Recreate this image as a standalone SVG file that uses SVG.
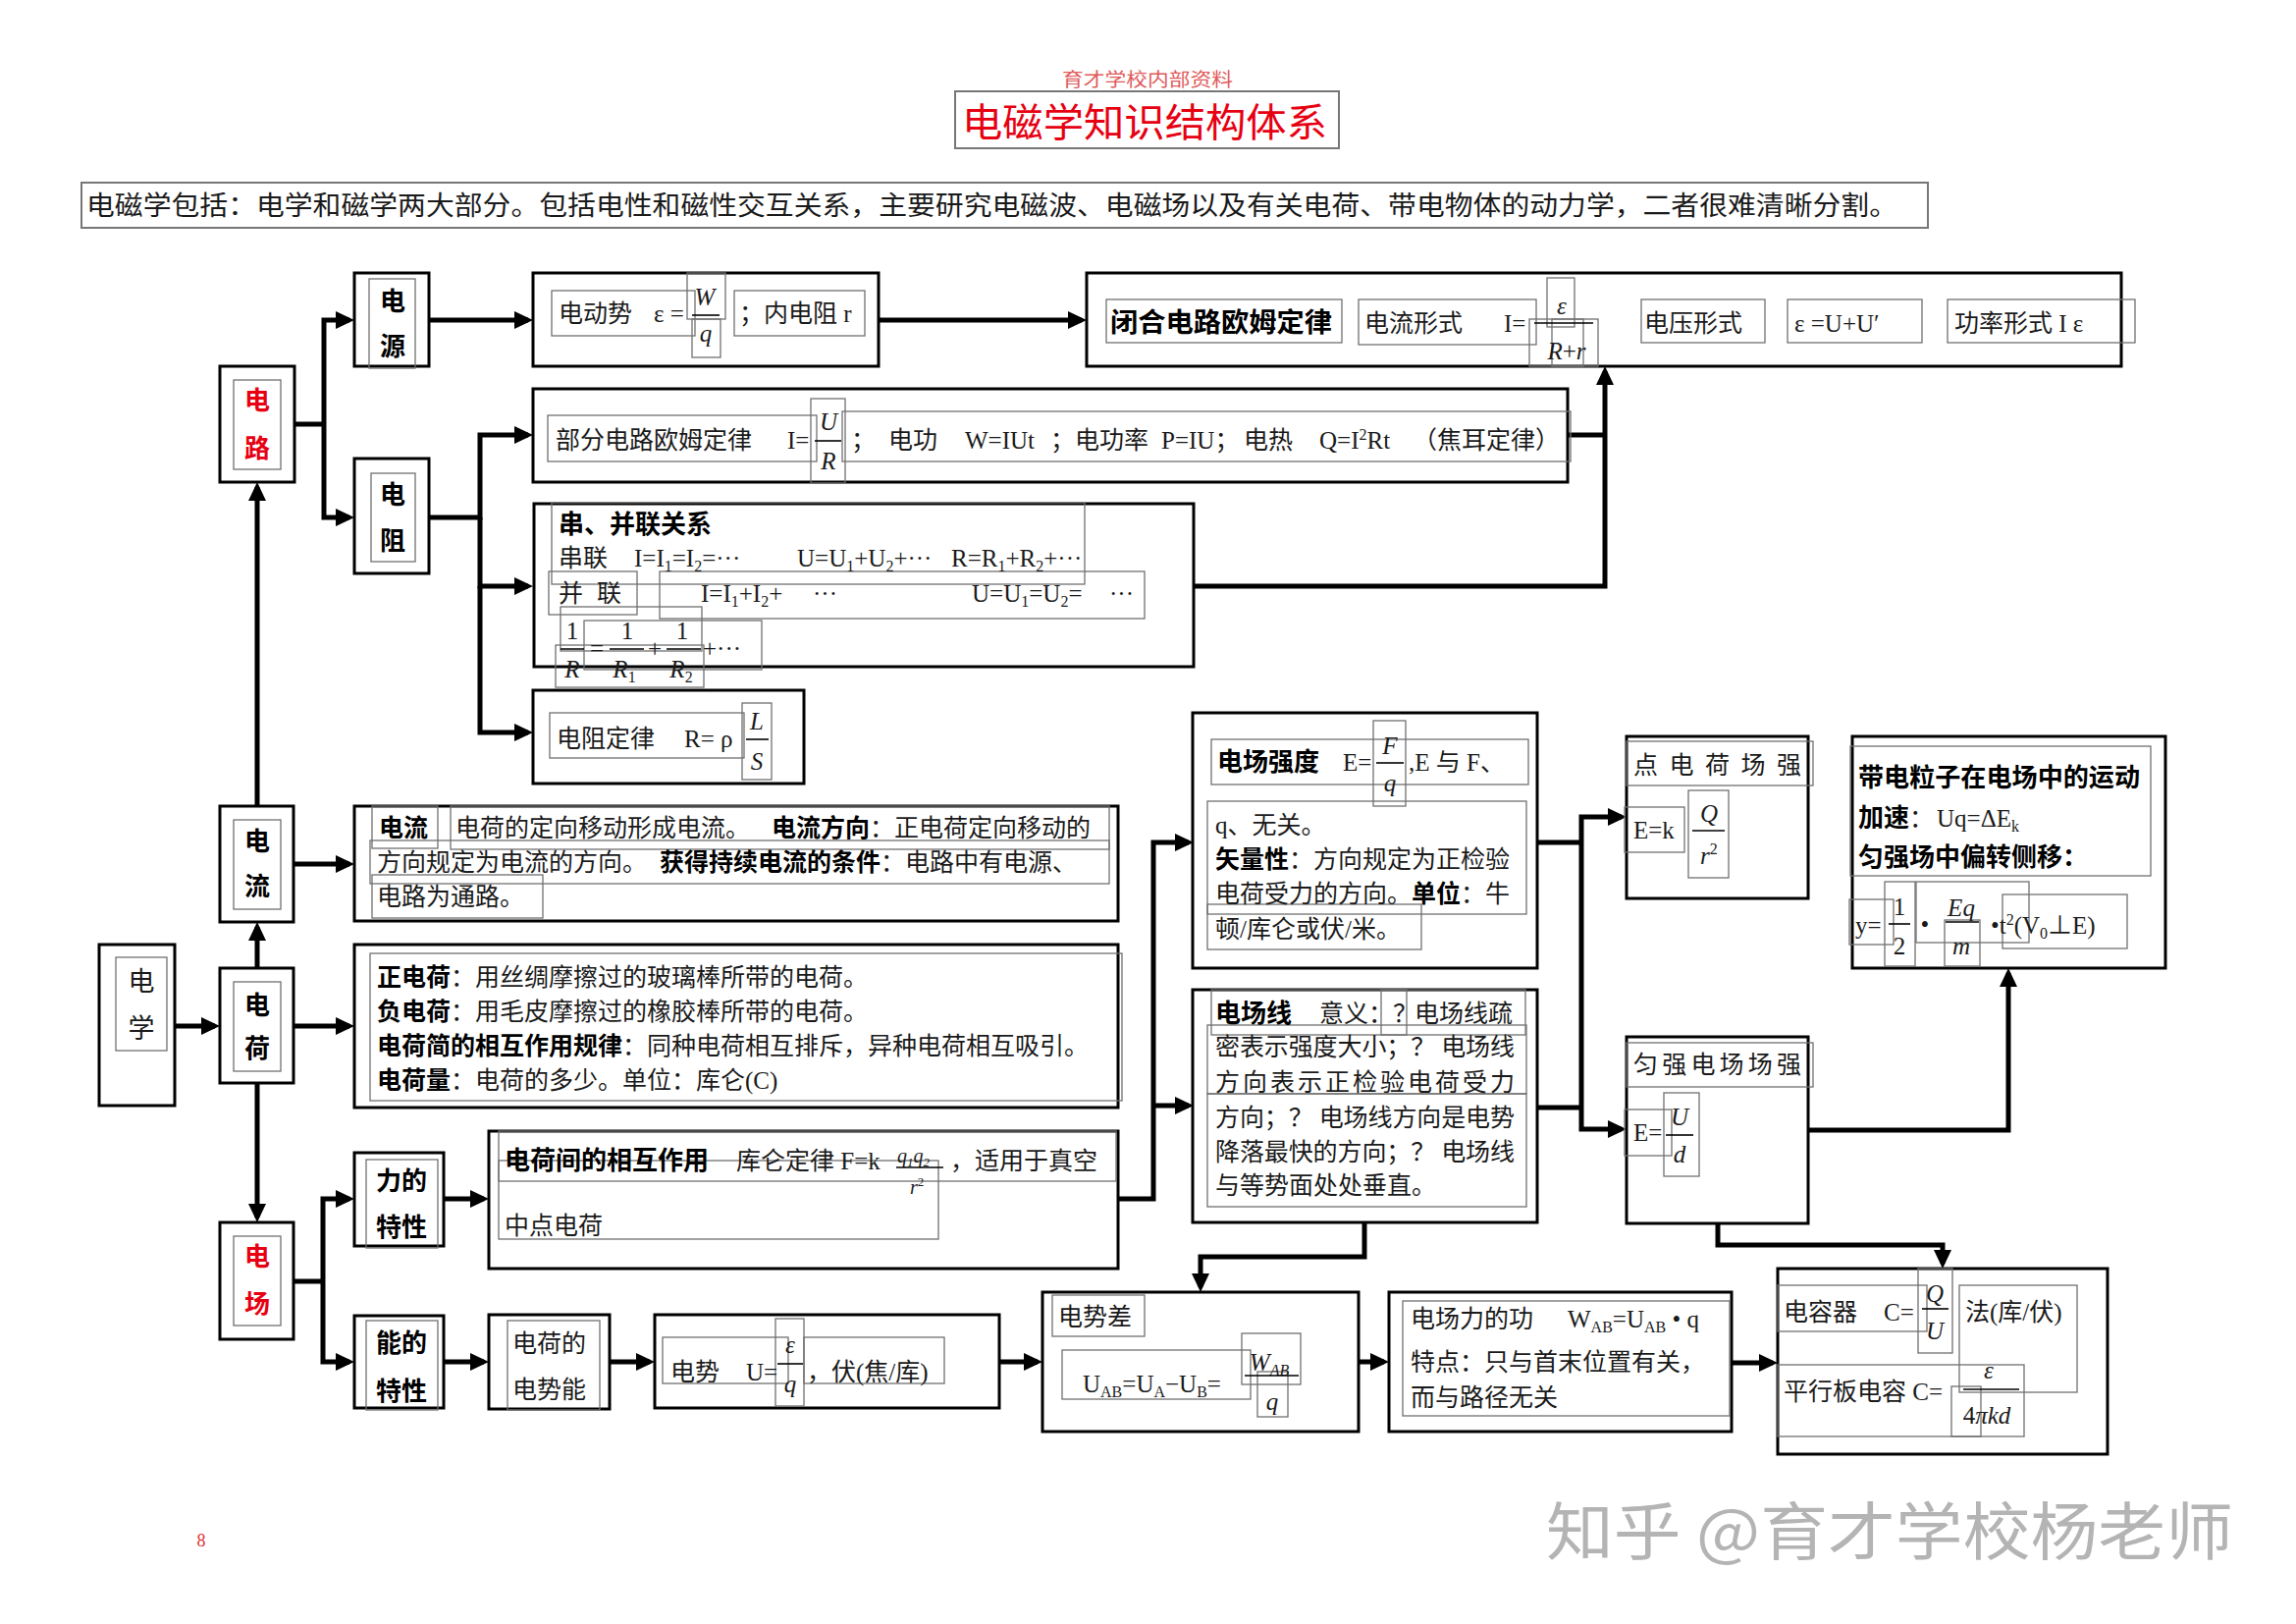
<svg xmlns="http://www.w3.org/2000/svg" width="2339" height="1654" viewBox="0 0 2339 1654">
<defs>
<style>
.box{fill:#fff;stroke:#000;stroke-width:3}
.in{fill:none;stroke:#707070;stroke-width:1.3}
.ca{fill:none;stroke:#000;stroke-width:5;marker-end:url(#ah)}
.c{fill:none;stroke:#000;stroke-width:5}
.fl{fill:none;stroke:#000;stroke-width:1.6}
text{font-family:"Liberation Serif","Noto Sans CJK SC",serif;font-size:25px;fill:#1a1a1a}
.b{font-family:"Liberation Sans","Noto Sans CJK SC",sans-serif;font-weight:bold;fill:#000}
.v{font-family:"Liberation Sans","Noto Sans CJK SC",sans-serif;font-weight:bold;font-size:26px;text-anchor:middle;fill:#000}
.red{fill:#e60012}
.m{font-style:italic}
.s{font-size:16px}
.mid{text-anchor:middle}
</style>
<marker id="ah" markerUnits="userSpaceOnUse" markerWidth="20" markerHeight="20" viewBox="0 0 20 20" refX="14" refY="10" orient="auto"><path d="M0,1 L19,10 L0,19 z" fill="#000"/></marker>
</defs>
<rect width="2339" height="1654" fill="#fff"/>

<g id="title">
<rect x="973" y="93" width="391" height="58" fill="#fff" stroke="#777" stroke-width="2"/>
<text x="1082" y="88" style="font-size:19px;fill:#e05a5a" textLength="174" lengthAdjust="spacingAndGlyphs">育才学校内部资料</text>
<text x="980" y="139" style="font-family:'Noto Sans CJK SC',sans-serif;font-size:40px;fill:#e60012" textLength="372" lengthAdjust="spacingAndGlyphs">电磁学知识结构体系</text>
</g>

<g id="intro">
<rect x="83" y="186" width="1881" height="46" fill="#fff" stroke="#777" stroke-width="2"/>
<text x="88" y="219" style="font-size:27px" textLength="1845" lengthAdjust="spacingAndGlyphs">电磁学包括：电学和磁学两大部分。包括电性和磁性交互关系，主要研究电磁波、电磁场以及有关电荷、带电物体的动力学，二者很难清晰分割。</text>
</g>

<g id="connectors">
<path class="c" d="M300,432 H330"/>
<path class="ca" d="M330,432 V326 H356"/>
<path class="ca" d="M330,432 V527 H356"/>
<path class="ca" d="M437,326 H538"/>
<path class="ca" d="M437,527 H489 V443 H538"/>
<path class="ca" d="M489,527 V597 H538"/>
<path class="ca" d="M489,597 V746 H538"/>
<path class="ca" d="M895,326 H1102"/>
<path class="c" d="M1597,443 H1635"/>
<path class="ca" d="M1216,597 H1635 V378"/>
<path class="ca" d="M178,1045 H219"/>
<path class="ca" d="M262,986 V944"/>
<path class="ca" d="M262,821 V496"/>
<path class="ca" d="M262,1103 V1240"/>
<path class="ca" d="M299,880 H356"/>
<path class="ca" d="M299,1045 H356"/>
<path class="c" d="M299,1305 H329"/>
<path class="ca" d="M329,1305 V1221 H356"/>
<path class="ca" d="M329,1305 V1387 H356"/>
<path class="ca" d="M452,1221 H493"/>
<path class="ca" d="M452,1387 H493"/>
<path class="ca" d="M621,1387 H662"/>
<path class="ca" d="M1018,1387 H1057"/>
<path class="ca" d="M1139,1221 H1175 V858 H1211"/>
<path class="ca" d="M1175,1126 H1211"/>
<path class="c" d="M1566,858 H1611"/>
<path class="c" d="M1566,1128 H1611"/>
<path class="ca" d="M1611,858 V832 H1652"/>
<path class="ca" d="M1611,858 V1150 H1652"/>
<path class="ca" d="M1842,1151 H2046 V991"/>
<path class="ca" d="M1750,1246 V1268 H1979 V1287"/>
<path class="ca" d="M1390,1245 V1280 H1223 V1311"/>
<path class="ca" d="M1384,1387 H1410"/>
<path class="ca" d="M1764,1388 H1806"/>
</g>

<g id="n-dianlu">
<rect class="box" x="224" y="373" width="76" height="118"/>
<rect class="in" x="238" y="387" width="48" height="91"/>
<text class="v red" x="262" y="417">电</text>
<text class="v red" x="262" y="466">路</text>
</g>
<g id="n-dianyuan">
<rect class="box" x="361" y="278" width="76" height="95"/>
<rect class="in" x="376" y="284" width="47" height="91"/>
<text class="v" x="400" y="316">电</text>
<text class="v" x="400" y="362">源</text>
</g>
<g id="n-dianzu">
<rect class="box" x="361" y="467" width="76" height="117"/>
<rect class="in" x="378" y="482" width="45" height="90"/>
<text class="v" x="400" y="513">电</text>
<text class="v" x="400" y="560">阻</text>
</g>
<g id="n-dianxue">
<rect class="box" x="101" y="962" width="77" height="164"/>
<rect class="in" x="118" y="975" width="52" height="95"/>
<text class="mid" style="font-size:27px" x="144" y="1009">电</text>
<text class="mid" style="font-size:27px" x="144" y="1057">学</text>
</g>
<g id="n-dianhe">
<rect class="box" x="224" y="986" width="75" height="117"/>
<rect class="in" x="238" y="1000" width="48" height="91"/>
<text class="v" x="262" y="1033">电</text>
<text class="v" x="262" y="1077">荷</text>
</g>
<g id="n-dianliu">
<rect class="box" x="224" y="821" width="75" height="118"/>
<rect class="in" x="238" y="835" width="48" height="91"/>
<text class="v" x="262" y="866">电</text>
<text class="v" x="262" y="912">流</text>
</g>
<g id="n-dianchang">
<rect class="box" x="224" y="1245" width="75" height="119"/>
<rect class="in" x="238" y="1259" width="48" height="91"/>
<text class="v red" x="262" y="1289">电</text>
<text class="v red" x="262" y="1337">场</text>
</g>
<g id="n-lide">
<rect class="box" x="361" y="1174" width="91" height="95"/>
<rect class="in" x="373" y="1181" width="73" height="90"/>
<text class="v" x="409" y="1212">力的</text>
<text class="v" x="409" y="1259">特性</text>
</g>
<g id="n-nengde">
<rect class="box" x="361" y="1340" width="91" height="94"/>
<rect class="in" x="373" y="1345" width="73" height="91"/>
<text class="v" x="409" y="1377">能的</text>
<text class="v" x="409" y="1426">特性</text>
</g>
<g id="n-dianshineng">
<rect class="box" x="498" y="1339" width="123" height="96"/>
<rect class="in" x="517" y="1345" width="94" height="91"/>
<text x="522" y="1377">电荷的</text>
<text x="522" y="1424">电势能</text>
</g>

<g id="n-diandongshi">
<rect class="box" x="543" y="278" width="352" height="95"/>
<rect class="in" x="562" y="296" width="146" height="46"/>
<rect class="in" x="700" y="278" width="39" height="47"/>
<rect class="in" x="705" y="325" width="29" height="39"/>
<rect class="in" x="748" y="296" width="133" height="46"/>
<text x="569" y="328">电动势</text>
<text x="666" y="328">ε =</text>
<text class="m mid" x="718" y="311">W</text>
<path class="fl" d="M705,321 H733"/>
<text class="m mid" x="719" y="348">q</text>
<text x="753" y="328">；内电阻 r</text>
</g>

<g id="n-bihe">
<rect class="box" x="1107" y="278" width="1054" height="95"/>
<rect class="in" x="1127" y="305" width="240" height="44"/>
<rect class="in" x="1384" y="305" width="181" height="46"/>
<rect class="in" x="1576" y="283" width="28" height="50"/>
<rect class="in" x="1558" y="325" width="70" height="48"/>
<rect class="in" x="1581" y="325" width="32" height="48"/>
<rect class="in" x="1672" y="305" width="126" height="44"/>
<rect class="in" x="1821" y="305" width="137" height="44"/>
<rect class="in" x="1984" y="305" width="191" height="44"/>
<text class="b" x="1131" y="338" style="font-size:27px" textLength="226" lengthAdjust="spacingAndGlyphs">闭合电路欧姆定律</text>
<text x="1390" y="338">电流形式</text>
<text x="1532" y="338">I=</text>
<text class="m mid" x="1591" y="320">ε</text>
<path class="fl" d="M1563,329 H1623"/>
<text class="m mid" x="1596" y="366">R<tspan style="font-style:normal">+</tspan>r</text>
<text x="1675" y="338">电压形式</text>
<text x="1828" y="338">ε =U+U′</text>
<text x="1991" y="338">功率形式  I ε</text>
</g>

<g id="n-bufen">
<rect class="box" x="543" y="396" width="1054" height="95"/>
<rect class="in" x="558" y="423" width="274" height="47"/>
<rect class="in" x="826" y="406" width="35" height="86"/>
<rect class="in" x="858" y="419" width="742" height="51"/>
<text x="566" y="457">部分电路欧姆定律</text>
<text x="802" y="457">I=</text>
<text class="m mid" x="844" y="438">U</text>
<path class="fl" d="M830,449 H857"/>
<text class="m mid" x="844" y="478">R</text>
<text x="867" y="457">；</text>
<text x="905" y="457">电功</text>
<text x="983" y="457">W=IUt</text>
<text x="1070" y="457">；</text>
<text x="1095" y="457">电功率</text>
<text x="1183" y="457">P=IU；</text>
<text x="1267" y="457">电热</text>
<text x="1344" y="457">Q=I<tspan class="s" baseline-shift="9">2</tspan>Rt</text>
<text x="1439" y="457">（焦耳定律）</text>
</g>

<g id="n-chuanbing">
<rect class="box" x="544" y="513" width="672" height="166"/>
<rect class="in" x="562" y="512" width="543" height="83"/>
<rect class="in" x="559" y="582" width="90" height="44"/>
<rect class="in" x="672" y="582" width="494" height="48"/>
<rect class="in" x="571" y="618" width="144" height="45"/>
<rect class="in" x="595" y="632" width="181" height="50"/>
<rect class="in" x="566" y="657" width="151" height="43"/>
<text class="b" x="569" y="543" style="font-size:26px">串、并联关系</text>
<text x="569" y="577">串联</text>
<text x="646" y="577">I=I<tspan class="s" baseline-shift="-5">1</tspan>=I<tspan class="s" baseline-shift="-5">2</tspan>=···</text>
<text x="812" y="577">U=U<tspan class="s" baseline-shift="-5">1</tspan>+U<tspan class="s" baseline-shift="-5">2</tspan>+···</text>
<text x="969" y="577">R=R<tspan class="s" baseline-shift="-5">1</tspan>+R<tspan class="s" baseline-shift="-5">2</tspan>+···</text>
<text y="613"><tspan x="569">并</tspan><tspan x="608">联</tspan></text>
<text x="714" y="613">I=I<tspan class="s" baseline-shift="-5">1</tspan>+I<tspan class="s" baseline-shift="-5">2</tspan>+</text>
<text x="828" y="613">···</text>
<text x="990" y="613">U=U<tspan class="s" baseline-shift="-5">1</tspan>=U<tspan class="s" baseline-shift="-5">2</tspan>=</text>
<text x="1130" y="613">···</text>
<text class="mid" x="583" y="651">1</text>
<text class="mid" x="639" y="651">1</text>
<text class="mid" x="695" y="651">1</text>
<path class="fl" d="M571,661 H595 M621,661 H656 M679,661 H714"/>
<text class="mid" x="608" y="669">=</text>
<text class="mid" x="667" y="669">+</text>
<text x="716" y="669">+···</text>
<text class="m mid" x="583" y="690">R</text>
<text class="m mid" x="636" y="690">R<tspan class="s" style="font-style:normal" baseline-shift="-5">1</tspan></text>
<text class="m mid" x="694" y="690">R<tspan class="s" style="font-style:normal" baseline-shift="-5">2</tspan></text>
</g>

<g id="n-dianzudinglv">
<rect class="box" x="543" y="703" width="276" height="95"/>
<rect class="in" x="560" y="726" width="198" height="46"/>
<rect class="in" x="756" y="716" width="30" height="78"/>
<text x="567" y="761">电阻定律</text>
<text x="697" y="761">R= ρ</text>
<text class="m mid" x="771" y="743">L</text>
<path class="fl" d="M760,753 H783"/>
<text class="m mid" x="771" y="784">S</text>
</g>

<g id="n-dianliu-text">
<rect class="box" x="361" y="821" width="778" height="117"/>
<rect class="in" x="379" y="821" width="67" height="43"/>
<rect class="in" x="459" y="821" width="671" height="44"/>
<rect class="in" x="377" y="856" width="753" height="44"/>
<rect class="in" x="379" y="891" width="174" height="44"/>
<text y="852"><tspan class="b" x="386">电流</tspan><tspan x="464">电荷的定向移动形成电流。</tspan><tspan class="b" x="786">电流方向</tspan><tspan>：正电荷定向移动的</tspan></text>
<text y="887"><tspan x="384">方向规定为电流的方向。</tspan><tspan class="b" x="672">获得持续电流的条件</tspan><tspan>：电路中有电源、</tspan></text>
<text x="384" y="922">电路为通路。</text>
</g>

<g id="n-dianhe-text">
<rect class="box" x="361" y="962" width="778" height="166"/>
<rect class="in" x="377" y="971" width="766" height="150"/>
<text x="384" y="1004"><tspan class="b">正电荷</tspan>：用丝绸摩擦过的玻璃棒所带的电荷。</text>
<text x="384" y="1039"><tspan class="b">负电荷</tspan>：用毛皮摩擦过的橡胶棒所带的电荷。</text>
<text x="384" y="1074"><tspan class="b">电荷简的相互作用规律</tspan>：同种电荷相互排斥，异种电荷相互吸引。</text>
<text x="384" y="1109"><tspan class="b">电荷量</tspan>：电荷的多少。单位：库仑(C)</text>
</g>

<g id="n-xianghu">
<rect class="box" x="498" y="1152" width="641" height="140"/>
<rect class="in" x="508" y="1152" width="629" height="51"/>
<rect class="in" x="508" y="1182" width="448" height="80"/>
<text class="b" x="514" y="1191" style="font-size:26px">电荷间的相互作用</text>
<text x="750" y="1191">库仑定律  F=k</text>
<text class="m" x="914" y="1184" style="font-size:20px">q<tspan style="font-size:13px" baseline-shift="-4">1</tspan>q<tspan style="font-size:13px" baseline-shift="-4">2</tspan></text>
<path class="fl" d="M913,1189 H961"/>
<text class="m" x="927" y="1216" style="font-size:20px">r<tspan style="font-size:13px;font-style:normal" baseline-shift="8">2</tspan></text>
<text x="968" y="1191">，适用于真空</text>
<text x="514" y="1257">中点电荷</text>
</g>

<g id="n-dianshi">
<rect class="box" x="667" y="1339" width="351" height="95"/>
<rect class="in" x="675" y="1362" width="128" height="47"/>
<rect class="in" x="790" y="1343" width="29" height="89"/>
<rect class="in" x="819" y="1362" width="143" height="47"/>
<text x="683" y="1406">电势</text>
<text x="760" y="1406">U=</text>
<text class="m mid" x="805" y="1378">ε</text>
<path class="fl" d="M792,1389 H818"/>
<text class="m mid" x="805" y="1418">q</text>
<text x="822" y="1406">，伏(焦/库)</text>
</g>

<g id="n-dianshicha">
<rect class="box" x="1062" y="1316" width="322" height="142"/>
<rect class="in" x="1072" y="1319" width="94" height="42"/>
<rect class="in" x="1082" y="1375" width="192" height="50"/>
<rect class="in" x="1265" y="1358" width="60" height="52"/>
<rect class="in" x="1281" y="1397" width="31" height="46"/>
<text x="1078" y="1350">电势差</text>
<text x="1103" y="1418">U<tspan class="s" baseline-shift="-5">AB</tspan>=U<tspan class="s" baseline-shift="-5">A</tspan>−U<tspan class="s" baseline-shift="-5">B</tspan>=</text>
<text class="m mid" x="1293" y="1396">W<tspan class="s" baseline-shift="-5">AB</tspan></text>
<path class="fl" d="M1268,1401 H1323"/>
<text class="m mid" x="1296" y="1436">q</text>
</g>

<g id="n-gong">
<rect class="box" x="1415" y="1316" width="349" height="142"/>
<rect class="in" x="1429" y="1325" width="333" height="117"/>
<text x="1437" y="1352">电场力的功</text>
<text x="1597" y="1352">W<tspan class="s" baseline-shift="-5">AB</tspan>=U<tspan class="s" baseline-shift="-5">AB</tspan> • q</text>
<text x="1437" y="1396">特点：只与首末位置有关，</text>
<text x="1437" y="1432">而与路径无关</text>
</g>

<g id="n-dianrong">
<rect class="box" x="1811" y="1292" width="336" height="189"/>
<rect class="in" x="1811" y="1309" width="152" height="47"/>
<rect class="in" x="1954" y="1292" width="35" height="86"/>
<rect class="in" x="1996" y="1309" width="120" height="109"/>
<rect class="in" x="1811" y="1390" width="251" height="73"/>
<rect class="in" x="1988" y="1412" width="30" height="51"/>
<text x="1817" y="1345">电容器</text>
<text x="1919" y="1345">C=</text>
<text class="m mid" x="1971" y="1326">Q</text>
<path class="fl" d="M1958,1333 H1985"/>
<text class="m mid" x="1971" y="1364">U</text>
<text x="2002" y="1345">法(库/伏)</text>
<text x="1817" y="1426">平行板电容 C=</text>
<text class="m mid" x="2026" y="1404">ε</text>
<path class="fl" d="M2000,1415 H2057"/>
<text class="mid" x="2024" y="1450">4<tspan class="m">πkd</tspan></text>
</g>

<g id="n-qiangdu">
<rect class="box" x="1215" y="726" width="351" height="260"/>
<rect class="in" x="1234" y="753" width="323" height="46"/>
<rect class="in" x="1399" y="734" width="33" height="87"/>
<rect class="in" x="1230" y="816" width="325" height="115"/>
<rect class="in" x="1230" y="921" width="218" height="46"/>
<text class="b" x="1240" y="785" style="font-size:26px">电场强度</text>
<text x="1368" y="785">E=</text>
<text class="m mid" x="1416" y="768">F</text>
<path class="fl" d="M1402,777 H1430"/>
<text class="m mid" x="1416" y="806">q</text>
<text x="1435" y="785">,E 与 F、</text>
<text x="1238" y="849">q、无关。</text>
<text x="1238" y="884"><tspan class="b">矢量性</tspan>：方向规定为正检验</text>
<text x="1238" y="919">电荷受力的方向。<tspan class="b">单位</tspan>：牛</text>
<text x="1238" y="955">顿/库仑或伏/米。</text>
</g>

<g id="n-dianchangxian">
<rect class="box" x="1215" y="1008" width="351" height="237"/>
<rect class="in" x="1234" y="1008" width="320" height="46"/>
<rect class="in" x="1407" y="1008" width="26" height="46"/>
<rect class="in" x="1230" y="1044" width="325" height="70"/>
<rect class="in" x="1230" y="1114" width="325" height="115"/>
<text x="1238" y="1041"><tspan class="b" style="font-size:26px">电场线</tspan><tspan x="1344">意义：？</tspan><tspan x="1441">电场线疏</tspan></text>
<text x="1238" y="1075" textLength="305" lengthAdjust="spacing">密表示强度大小；？ 电场线</text>
<text x="1238" y="1111" textLength="305" lengthAdjust="spacing">方向表示正检验电荷受力</text>
<text x="1238" y="1147" textLength="305" lengthAdjust="spacing">方向；？ 电场线方向是电势</text>
<text x="1238" y="1182" textLength="305" lengthAdjust="spacing">降落最快的方向；？ 电场线</text>
<text x="1238" y="1216">与等势面处处垂直。</text>
</g>

<g id="n-dian">
<rect class="box" x="1657" y="750" width="185" height="165"/>
<rect class="in" x="1657" y="755" width="190" height="45"/>
<rect class="in" x="1655" y="822" width="61" height="46"/>
<rect class="in" x="1720" y="805" width="41" height="89"/>
<text x="1664" y="788" textLength="171" lengthAdjust="spacing">点电荷场强</text>
<text x="1664" y="854">E=k</text>
<text class="m mid" x="1741" y="837">Q</text>
<path class="fl" d="M1724,846 H1757"/>
<text class="m" x="1732" y="880">r<tspan class="s" style="font-style:normal" baseline-shift="10">2</tspan></text>
</g>

<g id="n-yunqiang">
<rect class="box" x="1657" y="1056" width="185" height="190"/>
<rect class="in" x="1657" y="1062" width="190" height="45"/>
<rect class="in" x="1655" y="1130" width="48" height="47"/>
<rect class="in" x="1695" y="1113" width="36" height="85"/>
<text x="1664" y="1093" textLength="171" lengthAdjust="spacing">匀强电场场强</text>
<text x="1664" y="1162">E=</text>
<text class="m mid" x="1711" y="1146">U</text>
<path class="fl" d="M1697,1156 H1725"/>
<text class="m mid" x="1711" y="1184">d</text>
</g>

<g id="n-lizi">
<rect class="box" x="1887" y="750" width="319" height="236"/>
<rect class="in" x="1885" y="760" width="306" height="132"/>
<rect class="in" x="1884" y="916" width="45" height="46"/>
<rect class="in" x="1920" y="898" width="31" height="86"/>
<rect class="in" x="1952" y="898" width="115" height="62"/>
<rect class="in" x="1981" y="937" width="36" height="47"/>
<rect class="in" x="2040" y="911" width="127" height="55"/>
<text class="b" x="1893" y="801" style="font-size:26px" textLength="287" lengthAdjust="spacingAndGlyphs">带电粒子在电场中的运动</text>
<text x="1893" y="842"><tspan class="b" style="font-size:26px">加速</tspan>：</text>
<text x="1973" y="842">Uq=ΔE<tspan class="s" baseline-shift="-5">k</tspan></text>
<text class="b" x="1893" y="882" style="font-size:26px">匀强场中偏转侧移：</text>
<text x="1890" y="951">y=</text>
<text class="mid" x="1935" y="932">1</text>
<path class="fl" d="M1924,941 H1946"/>
<text class="mid" x="1935" y="972">2</text>
<text class="mid" x="1961" y="950">•</text>
<text class="m mid" x="1998" y="933">Eq</text>
<path class="fl" d="M1982,939 H2016"/>
<text class="m mid" x="1998" y="972">m</text>
<text x="2028" y="951">•t<tspan class="s" baseline-shift="9">2</tspan>(V<tspan class="s" baseline-shift="-5">0</tspan>⊥E)</text>
</g>

<g id="footer">
<text x="205" y="1575" class="mid" style="font-size:18px;fill:#e03030">8</text>
<text x="1575" y="1583" style="font-family:'Noto Sans CJK SC',sans-serif;font-size:64px;fill:#b4b4b4" textLength="700" lengthAdjust="spacingAndGlyphs">知乎 @育才学校杨老师</text>
</g>
</svg>
